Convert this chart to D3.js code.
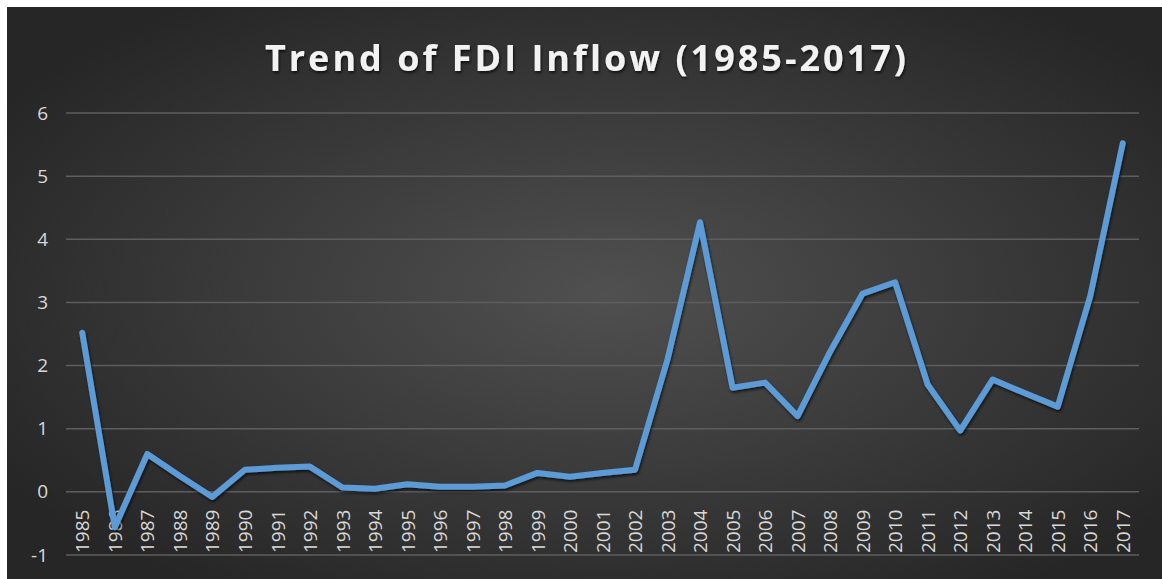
<!DOCTYPE html>
<html lang="en">
<head>
<meta charset="utf-8">
<title>Trend of FDI Inflow</title>
<style>
    html, body { margin: 0; padding: 0; background: #ffffff; }
    svg { display: block; }
    .grid line { stroke: #5e5e5e; stroke-width: 1.5; }
    .axis text { fill: #d9d9d9; }
</style>
</head>
<body>
<script src="https://d3js.org/d3.v7.min.js"></script>
<script>
var years = ["1985","1986","1987","1988","1989","1990","1991","1992","1993","1994",
             "1995","1996","1997","1998","1999","2000","2001","2002","2003","2004",
             "2005","2006","2007","2008","2009","2010","2011","2012","2013","2014",
             "2015","2016","2017"];
var inflow = [2.52, -0.56, 0.6, 0.25, -0.08, 0.35, 0.38, 0.4, 0.07, 0.05,
              0.12, 0.08, 0.08, 0.1, 0.3, 0.24, 0.3, 0.35, 2.1, 4.27,
              1.65, 1.73, 1.2, 2.22, 3.14, 3.32, 1.7, 0.97, 1.78, 1.56,
              1.35, 3.1, 5.52];
var yTicks = [-1, 0, 1, 2, 3, 4, 5, 6];

var W = 1162, H = 579;
var margin = { top: 113, right: 23, bottom: 24, left: 66 };
var width = W - margin.left - margin.right,
    height = H - margin.top - margin.bottom;

var svg = d3.select("body").append("svg")
    .attr("width", W)
    .attr("height", H);

var defs = svg.append("defs");
var bg = defs.append("radialGradient")
    .attr("id", "bg")
    .attr("cx", "52%").attr("cy", "50%").attr("r", "62%");
bg.append("stop").attr("offset", "0%").attr("stop-color", "#505050");
bg.append("stop").attr("offset", "100%").attr("stop-color", "#262626");

var shadow = defs.append("filter").attr("id", "shadow")
    .attr("x", "-10%").attr("y", "-10%").attr("width", "120%").attr("height", "120%");
shadow.append("feDropShadow")
    .attr("dx", 1).attr("dy", 2).attr("stdDeviation", 1.5)
    .attr("flood-color", "#000").attr("flood-opacity", 0.7);

svg.append("rect")
    .attr("x", 7).attr("y", 7)
    .attr("width", W - 7).attr("height", H - 7)
    .attr("fill", "url(#bg)");

var g = svg.append("g")
    .attr("transform", "translate(" + margin.left + "," + margin.top + ")");

var x = d3.scalePoint().domain(years).range([0, width]).padding(0.5);
var y = d3.scaleLinear().domain([-1, 6]).range([height, 0]);

// gridlines
g.append("g").attr("class", "grid")
    .selectAll("line")
    .data(yTicks)
    .enter().append("line")
    .attr("x1", 0).attr("x2", width)
    .attr("y1", function(d) { return y(d); })
    .attr("y2", function(d) { return y(d); });

// y axis labels (plain hyphen for negatives, like the original)
var yAxis = d3.axisLeft(y).tickValues(yTicks).tickSize(0).tickPadding(18)
    .tickFormat(function(d) { return String(d); });
g.append("g").attr("class", "axis")
    .call(yAxis)
    .call(function(a) { a.select(".domain").remove(); })
    .selectAll("text")
    .style("font-family", "'Open Sans', sans-serif")
    .style("font-size", "19px");

// x axis labels, rotated, sitting between 0 and -1
var xAxis = d3.axisBottom(x).tickSize(0);
var xg = g.append("g").attr("class", "axis")
    .attr("transform", "translate(0," + y(0) + ")")
    .call(xAxis);
xg.select(".domain").remove();
xg.selectAll("text")
    .style("font-family", "'Open Sans', sans-serif")
    .style("font-size", "19px")
    .attr("text-anchor", "start")
    .attr("transform", "translate(0," + (y(-1) - y(0) - 2) + ") rotate(-90)")
    .attr("x", 0).attr("y", 0).attr("dy", "0.35em");

// the line
var line = d3.line()
    .x(function(d, i) { return x(years[i]); })
    .y(function(d) { return y(d); });

g.append("path")
    .datum(inflow)
    .attr("d", line)
    .attr("fill", "none")
    .attr("stroke", "#5b9bd5")
    .attr("stroke-width", 6)
    .attr("stroke-linejoin", "round")
    .attr("stroke-linecap", "round")
    .attr("filter", "url(#shadow)");

// title
svg.append("text")
    .attr("x", 587).attr("y", 71)
    .attr("text-anchor", "middle")
    .attr("fill", "#f2f2f2")
    .attr("filter", "url(#shadow)")
    .style("font-family", "'Open Sans', sans-serif")
    .style("font-weight", "bold")
    .style("font-size", "36px")
    .style("letter-spacing", "3px")
    .text("Trend of FDI Inflow (1985-2017)");
</script>
</body>
</html>
